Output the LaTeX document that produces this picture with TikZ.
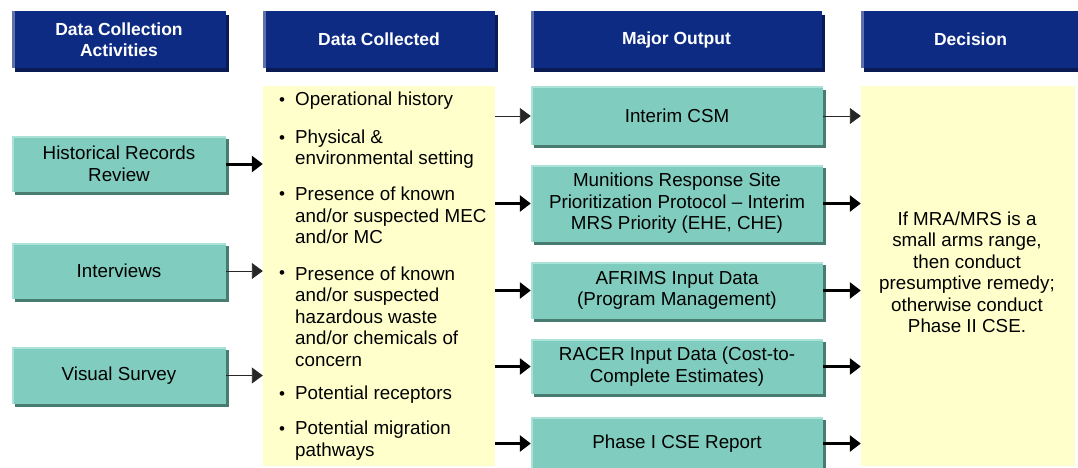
\documentclass[tikz,border=0pt]{standalone}
\usepackage{fontspec}
\setmainfont{Liberation Sans}
\usetikzlibrary{arrows.meta,shadows}

\definecolor{navy}{RGB}{13,43,131}
\definecolor{navyshadow}{RGB}{9,27,82}
\definecolor{navyedge}{RGB}{95,112,170}
\definecolor{tealfill}{RGB}{128,205,191}
\definecolor{tealshadow}{RGB}{72,124,112}
\definecolor{tealedge}{RGB}{170,226,215}
\definecolor{paleyellow}{RGB}{255,255,204}

\tikzset{
  bodyfont/.style={font=\fontsize{18.8}{21.5}\selectfont},
  hdr/.style={fill=navy, text=white, align=center, inner sep=0pt,
    font=\bfseries\fontsize{17.5}{21.5}\selectfont,
    drop shadow={shadow xshift=3pt, shadow yshift=-4pt, opacity=1, fill=navyshadow},
    path picture={\fill[navyedge] (path picture bounding box.south west)
      rectangle ([xshift=2.5pt]path picture bounding box.north west);}},
  tealbox/.style={fill=tealfill, align=center, inner sep=0pt, bodyfont,
    drop shadow={shadow xshift=3pt, shadow yshift=-3pt, opacity=1, fill=tealshadow},
    path picture={\draw[tealedge, line width=3pt]
      (path picture bounding box.south west) -- (path picture bounding box.north west)
      -- (path picture bounding box.north east);}},
  notebox/.style={fill=paleyellow, inner sep=0pt},
  item/.style={anchor=west, align=left, inner sep=0pt, bodyfont},
  dot/.style={inner sep=0pt, font=\fontsize{17}{21.5}\selectfont},
  thinarrow/.style={draw=black!85, line width=0.9pt,
    -{Triangle[length=11pt, width=16pt]}},
  thickarrow/.style={draw=black, line width=3pt,
    -{Triangle[length=11pt, width=16pt]}},
}

\begin{document}
\begin{tikzpicture}[x=1pt, y=-1pt]
\useasboundingbox (0,0) rectangle (1078,468);

% column headers
\node[hdr, minimum width=214pt, minimum height=57pt] (h1) at (119,39.5)
  {Data Collection\\Activities};
\node[hdr, minimum width=232pt, minimum height=57pt] (h2) at (379,39.5)
  {Data Collected};
\node[hdr, minimum width=291pt, minimum height=57pt] (h3) at (676.5,39.5)
  {Major Output};
\node[hdr, minimum width=219pt, minimum height=57pt] (h4) at (970.5,39.5)
  {Decision};

% collection activities
\node[tealbox, minimum width=214pt, minimum height=56pt] (hist) at (119,164)
  {Historical Records\\Review};
\node[tealbox, minimum width=214pt, minimum height=56pt] (intv) at (119,271)
  {Interviews};
\node[tealbox, minimum width=214pt, minimum height=57pt] (vis) at (119,375.5)
  {Visual Survey};

% data collected panel
\node[notebox, minimum width=232pt, minimum height=380pt] (dc) at (379,276) {};
\node[dot] (b1) at (282,102) {\textbullet};
\node[item] (i1) at (295,101) {Operational history};
\node[dot] (b2) at (282,140) {\textbullet};
\node[item] (i2) at (295,149) {Physical \&\\environmental setting};
\node[dot] (b3) at (282,196) {\textbullet};
\node[item] (i3) at (295,215.5) {Presence of known\\and/or suspected MEC\\and/or MC};
\node[dot] (b4) at (282,275) {\textbullet};
\node[item] (i4) at (295,316.5) {Presence of known\\and/or suspected\\hazardous waste\\and/or chemicals of\\concern};
\node[dot] (b5) at (282,396) {\textbullet};
\node[item] (i5) at (295,395) {Potential receptors};
\node[dot] (b6) at (282,431) {\textbullet};
\node[item] (i6) at (295,440.5) {Potential migration\\pathways};

% major outputs
\node[tealbox, minimum width=292pt, minimum height=58pt] (csm) at (677,116)
  {Interim CSM};
\node[tealbox, minimum width=292pt, minimum height=77pt] (mrs) at (677,203.5)
  {Munitions Response Site\\Prioritization Protocol -- Interim\\MRS Priority (EHE, CHE)};
\node[tealbox, minimum width=292pt, minimum height=57pt] (afr) at (677,290.5)
  {AFRIMS Input Data\\(Program Management)};
\node[tealbox, minimum width=292pt, minimum height=55pt] (racer) at (677,366.5)
  {RACER Input Data (Cost-to-\\Complete Estimates)};
\node[tealbox, minimum width=292pt, minimum height=53pt] (rep) at (677,443.5)
  {Phase I CSE Report};

% decision panel
\node[notebox, minimum width=214pt, minimum height=380pt] (dec) at (968,276) {};
\node[align=center, inner sep=0pt, bodyfont] (dectxt) at (967,272.5)
  {If MRA/MRS is a\\small arms range,\\then conduct\\presumptive remedy;\\otherwise conduct\\Phase II CSE.};

% activities to data collected
\draw[thickarrow] (hist.east) -- (hist.east -| dc.west);
\draw[thinarrow]  (intv.east) -- (intv.east -| dc.west);
\draw[thinarrow]  (vis.east)  -- (vis.east -| dc.west);

% data collected to outputs
\draw[thinarrow]  (csm.west -| dc.east)   -- (csm.west);
\draw[thickarrow] (mrs.west -| dc.east)   -- (mrs.west);
\draw[thickarrow] (afr.west -| dc.east)   -- (afr.west);
\draw[thickarrow] (racer.west -| dc.east) -- (racer.west);
\draw[thickarrow] (rep.west -| dc.east)   -- (rep.west);

% outputs to decision
\draw[thinarrow]  (csm.east)   -- (csm.east -| dec.west);
\draw[thickarrow] (mrs.east)   -- (mrs.east -| dec.west);
\draw[thickarrow] (afr.east)   -- (afr.east -| dec.west);
\draw[thickarrow] (racer.east) -- (racer.east -| dec.west);
\draw[thickarrow] (rep.east)   -- (rep.east -| dec.west);
\end{tikzpicture}
\end{document}
